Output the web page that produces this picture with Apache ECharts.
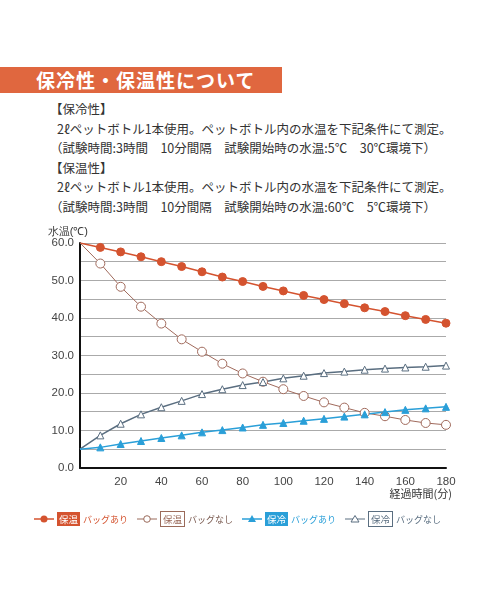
<!DOCTYPE html>
<html><head><meta charset="utf-8">
<script src="https://cdn.jsdelivr.net/npm/echarts@6/dist/echarts.min.js"></script>
<style>
body{margin:0;width:500px;height:600px;background:#fff;font-family:"Noto Sans CJK JP",sans-serif;color:#333;position:relative;overflow:hidden}
.ban{position:absolute;left:0;top:67px;width:282px;height:26px;background:#e0673f;color:#fff;font-weight:bold;font-size:19px;line-height:26px;padding-left:36px;box-sizing:border-box;letter-spacing:1px}
.txt{position:absolute;left:50px;top:99px;font-size:12.5px;line-height:19.5px}
.txt .i{padding-left:7px}
#c{position:absolute;left:0;top:226px;width:500px;height:300px}
.lg{position:absolute;top:512px;left:34px;font-size:9px;display:flex;gap:9px;align-items:center;white-space:nowrap}
.lg span.b{padding:0 2px;margin:0 3px;font-size:9.5px}
</style></head><body>
<div class="ban">保冷性・保温性について</div>
<div class="txt">
<div>【保冷性】</div>
<div class="i">2ℓペットボトル1本使用。ペットボトル内の水温を下記条件にて測定。</div>
<div>（試験時間:3時間　10分間隔　試験開始時の水温:5℃　30℃環境下）</div>
<div>【保温性】</div>
<div class="i">2ℓペットボトル1本使用。ペットボトル内の水温を下記条件にて測定。</div>
<div>（試験時間:3時間　10分間隔　試験開始時の水温:60℃　5℃環境下）</div>
</div>
<div id="c"></div>
<div class="lg">
<div style="color:#d4532f"><svg width="20" height="8"><line x1="0" y1="4" x2="20" y2="4" stroke="#d4532f" stroke-width="1.5"/><circle cx="10" cy="4" r="3.5" fill="#d4532f"/></svg><span class="b" style="background:#d4532f;color:#fff">保温</span>バッグあり</div>
<div style="color:#7a5a50"><svg width="20" height="8"><line x1="0" y1="4" x2="20" y2="4" stroke="#9a6a5a" stroke-width="1"/><circle cx="10" cy="4" r="3.3" fill="#fff" stroke="#9a6a5a"/></svg><span class="b" style="border:1px solid #9a6a5a;color:#9a6a5a">保温</span>バッグなし</div>
<div style="color:#2a9fd8"><svg width="20" height="8"><line x1="0" y1="4" x2="20" y2="4" stroke="#2a9fd8" stroke-width="1.5"/><polygon points="10,0 14,7 6,7" fill="#2a9fd8"/></svg><span class="b" style="background:#2a9fd8;color:#fff">保冷</span>バッグあり</div>
<div style="color:#5a6e80"><svg width="20" height="8"><line x1="0" y1="4" x2="20" y2="4" stroke="#5a6e80" stroke-width="1"/><polygon points="10,0.5 14,7 6,7" fill="#fff" stroke="#5a6e80"/></svg><span class="b" style="border:1px solid #5a6e80">保冷</span>バッグなし</div>
</div>
<script>
var minutes=[0,10,20,30,40,50,60,70,80,90,100,110,120,130,140,150,160,170,180];
var warmBag=[60,58.8,57.6,56.3,55.0,53.7,52.3,50.9,49.7,48.4,47.2,46.0,44.9,43.8,42.7,41.7,40.6,39.6,38.6];
var warmNoBag=[60,54.5,48.3,43.0,38.5,34.3,31.0,27.8,25.2,23.0,21.0,19.2,17.5,16.1,14.7,13.8,12.8,12.0,11.5];
var coldBag=[5,5.5,6.4,7.2,8.0,8.7,9.5,10.1,10.8,11.5,12.0,12.6,13.1,13.7,14.3,14.9,15.5,15.9,16.3];
var coldNoBag=[5,8.7,11.8,14.3,16.2,17.9,19.7,21.0,22.1,22.9,23.9,24.6,25.3,25.7,26.2,26.5,26.8,27.0,27.3];

function pts(v){
	return v.map(function(y,i){
		var d={value:[minutes[i],y]};
		if(i==0)d.symbol='none';
		return d;
	});
}
function line(data,color,symbol,fill,size,w){
	return {type:'line',data:pts(data),symbol:symbol,symbolSize:size,showAllSymbol:true,
		lineStyle:{color:color,width:w},itemStyle:{color:fill,borderColor:color,borderWidth:1},z:3};
}
var myChart=echarts.init(document.getElementById('c'));
var option={
	animation:false,
	grid:{left:80,right:54,top:15,bottom:58},
	xAxis:{type:'value',min:0,max:180,interval:20,
		axisLine:{lineStyle:{color:'#111',width:2}},axisTick:{show:false},splitLine:{show:false},
		axisLabel:{color:'#444',fontSize:11.5,fontFamily:'Liberation Sans',formatter:function(v){return v==0?'':v}}},
	yAxis:{type:'value',min:0,max:60,interval:5,name:'水温(℃)',nameLocation:'end',nameGap:4,
		nameTextStyle:{color:'#333',fontSize:11,align:'right',padding:[0,-8,0,0]},
		axisLine:{show:true,lineStyle:{color:'#111',width:2}},axisTick:{show:false},
		splitLine:{lineStyle:{color:'#aaa',width:1}},
		axisLabel:{color:'#444',fontSize:11.5,fontFamily:'Liberation Sans',margin:6,
			formatter:function(v){return v%10==0?v.toFixed(1):''}}},
	graphic:[{type:'text',right:48,top:262,style:{text:'経過時間(分)',fill:'#333',font:'11px "Noto Sans CJK JP"',textAlign:'right'}}],
	series:[
		line(warmBag,'#d4532f','circle','#d4532f',8,1.5),
		line(warmNoBag,'#a06a5c','circle','#fff',9,1),
		line(coldNoBag,'#5a6e80','triangle','#fff',7,1.5),
		line(coldBag,'#2a9fd8','triangle','#2a9fd8',7,1.5)
	]
};
myChart.setOption(option);
</script>
</body></html>
